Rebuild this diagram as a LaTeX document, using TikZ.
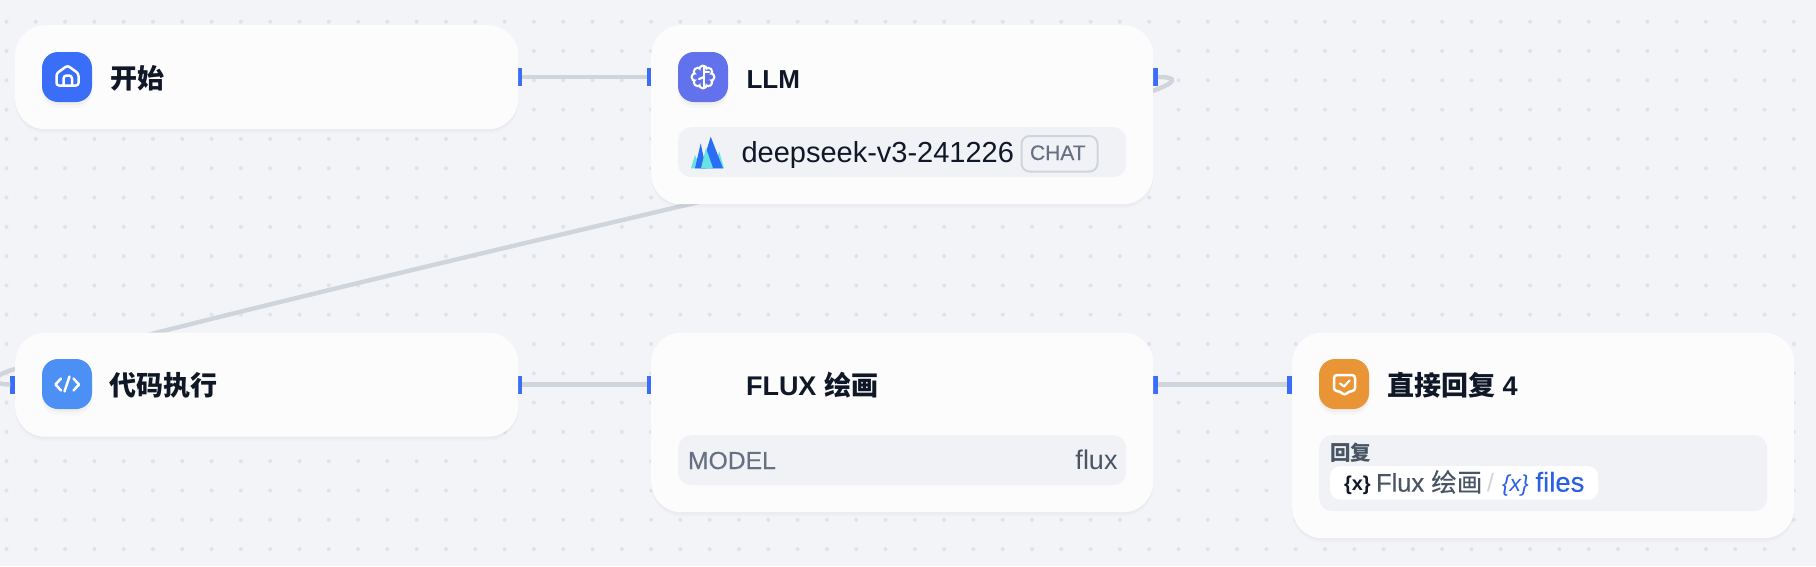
\documentclass[tikz,border=0pt]{standalone}
\usepackage{fontspec}
\setmainfont{Liberation Sans}
\newfontfamily\cjk{Noto Sans CJK SC}
\newfontfamily\medfont[FakeBold=.25]{Liberation Sans}
\newfontfamily\cjkmed[FakeBold=.25]{Noto Sans CJK SC}
\usetikzlibrary{shadows}

\definecolor{bgc}{HTML}{F2F4F7}
\definecolor{dotc}{HTML}{DFE2E8}
\definecolor{cardc}{HTML}{FCFCFD}
\definecolor{panelc}{HTML}{F0F2F6}
\definecolor{edgec}{HTML}{D0D5DC}
\definecolor{handlec}{HTML}{3B6EF8}
\definecolor{inkc}{HTML}{101828}
\definecolor{grayc}{HTML}{676F83}
\definecolor{slatec}{HTML}{495464}
\definecolor{homec}{HTML}{3B6EF8}
\definecolor{llmc}{HTML}{6172EC}
\definecolor{codec}{HTML}{4C90F5}
\definecolor{replyc}{HTML}{EA9535}
\definecolor{filesc}{HTML}{2A5FE6}
\definecolor{seekb}{HTML}{2B6EF6}
\definecolor{seekc}{HTML}{67E3E3}

\tikzstyle{lbl}=[inner sep=0pt,outer sep=0pt,anchor=base west]
\tikzstyle{title}=[lbl,text=inkc,font=\bfseries\fontsize{27}{30}\selectfont]
\tikzstyle{card}=[fill=cardc,rounded corners=30pt,anchor=north west,inner sep=0pt,
	general shadow={fill=black,opacity=.02,shadow xshift=0pt,shadow yshift=-2pt},
	general shadow={fill=black,opacity=.015,shadow xshift=0pt,shadow yshift=-4pt}]
\tikzstyle{panel}=[fill=panelc,rounded corners=13pt,anchor=north west,inner sep=0pt]
\tikzstyle{icon}=[rounded corners=16pt,minimum width=50pt,minimum height=50pt,inner sep=0pt,
	general shadow={fill=black,opacity=.03,shadow xshift=0pt,shadow yshift=-3pt},
	general shadow={fill=black,opacity=.02,shadow xshift=0pt,shadow yshift=-6pt}]
\tikzstyle{handle}=[fill=handlec,minimum width=5pt,minimum height=18pt,inner sep=0pt,outer sep=0pt]
\tikzstyle{edge}=[draw=edgec,line width=4.4pt]
\tikzstyle{glyph}=[draw=white,line width=2.5pt,line cap=round,line join=round]

\begin{document}
\begin{tikzpicture}[x=1pt,y=-1pt]
	\clip (0,0) rectangle (1816,566);
	%background
	\fill[bgc] (0,0) rectangle (1816,566);
	\foreach \i in {0,...,61}
	\foreach \j in {0,...,18}
	\fill[dotc] (6.5+29.3*\i,21.7+29.3*\j) circle (2pt);
	%handles
	\node[handle] (startout) at (519.7,77) {};
	\node[handle] (llmin) at (649,77) {};
	\node[handle] (llmout) at (1155.5,77) {};
	\node[handle] (codein) at (12.8,384.5) {};
	\node[handle] (codeout) at (519.7,384.5) {};
	\node[handle] (fluxin) at (649,384.5) {};
	\node[handle] (fluxout) at (1155.5,384.5) {};
	\node[handle] (replyin) at (1289.8,384.5) {};
	%edges
	\draw[edge] (startout) -- (llmin);
	\draw[edge] (codeout) -- (fluxin);
	\draw[edge] (fluxout) -- (replyin);
	\coordinate (loopa) at (1150,92);
	\coordinate (loopb) at (15,369);
	\draw[edge] (llmout.east) .. controls (1178,77) and (1178,82) .. (loopa)
		.. controls (800,182) and (400,268) .. (loopb)
		.. controls (-10,376) and (-10,384.5) .. (codein.west);
	%cards
	\node[card,minimum width=503pt,minimum height=104pt] (start) at (15,25) {};
	\node[card,minimum width=502pt,minimum height=179pt] (llm) at (651,25) {};
	\node[card,minimum width=503pt,minimum height=104pt] (code) at (15,332.5) {};
	\node[card,minimum width=502pt,minimum height=179.5pt] (flux) at (651,332.5) {};
	\node[card,minimum width=502pt,minimum height=205.5pt] (reply) at (1292,332.5) {};
	%start
	\node[icon,fill=homec] (homeicon) at (67,77) {};
	\draw[glyph,rounded corners=2.5pt] (56.5,85.5) -- (56.5,73.5) -- (67.5,65.5) -- (78.5,73.5) -- (78.5,85.5) -- cycle;
	\draw[glyph,line cap=butt,rounded corners=3pt] (63.5,85.5) -- (63.5,75.5) -- (72,75.5) -- (72,85.5);
	\node[title] (starttitle) at (110,88) {\cjk 开始};
	%llm
	\node[icon,fill=llmc] (llmicon) at (703,77) {};
	\foreach \a in {0,45,...,315}
	\fill[white] (703,77) ++(\a:7.5) circle (5pt);
	\foreach \a in {0,45,...,315}
	\fill[llmc] (703,77) ++(\a:7.5) circle (2.6pt);
	\fill[llmc] (703,77) circle (7pt);
	\draw[glyph,line width=2.2pt] (704,66) -- (704,88);
	\draw[glyph,line width=2.2pt] (704,77) -- (699,79);
	\draw[glyph,line width=2.2pt] (704,72) -- (709,72);
	\node[title,font=\bfseries\fontsize{26}{30}\selectfont] (llmtitle) at (746.5,88) {LLM};
	\node[panel,minimum width=448pt,minimum height=50pt] (llmpanel) at (678,127) {};
	%logo
	\fill[seekc] (691,168.3) -- (695,155) -- (701,168.3) -- cycle;
	\fill[seekc] (712,168.3) -- (719.3,151.7) -- (724,168.3) -- cycle;
	\fill[seekb] (695,168.3) -- (700.7,143.3) -- (706,168.3) -- cycle;
	\fill[seekb] (701,168.3) -- (710.7,136.7) -- (723,168.3) -- cycle;
	\fill[seekc] (701,168.3) -- (706,148) -- (713,168.3) -- cycle;
	\node[lbl,text=inkc,font=\fontsize{29}{32}\selectfont] (llmmodel) at (741.5,162.7) {deepseek-v3-241226};
	\node[draw=edgec,line width=2pt,rounded corners=8pt,anchor=north west,minimum width=76pt,minimum height=35.5pt,inner sep=0pt] (chatbadge) at (1020.5,135) {};
	\node[lbl,text=grayc,font=\medfont\fontsize{21}{24}\selectfont] (chat) at (1030,160) {CHAT};
	%code
	\node[icon,fill=codec] (codeicon) at (67,384) {};
	\draw[glyph] (61,378.5) -- (55.5,384.5) -- (61,390.5);
	\draw[glyph] (73.5,378.5) -- (79,384.5) -- (73.5,390.5);
	\draw[glyph] (69.5,376.5) -- (64.5,391.5);
	\node[title] (codetitle) at (109.5,395) {\cjk 代码执行};
	%flux
	\node[title] (fluxtitle) at (746,395) {FLUX {\cjk 绘画}};
	\node[panel,minimum width=448pt,minimum height=50pt] (fluxpanel) at (678,435) {};
	\node[lbl,text=grayc,font=\medfont\fontsize{24.7}{28}\selectfont] (modelkey) at (688,469) {MODEL};
	\node[lbl,anchor=base east,text=slatec,font=\fontsize{27}{30}\selectfont] (modelval) at (1117.5,469) {flux};
	%reply
	\node[icon,fill=replyc] (replyicon) at (1344,384) {};
	\draw[glyph,rounded corners=3pt] (1334,375) -- (1355,375) -- (1355,391) -- (1349.5,391) -- (1344.5,395.5) -- (1339.5,391) -- (1334,391) -- cycle;
	\draw[glyph,line width=2.2pt] (1340,383.5) -- (1344,386.5) -- (1349.5,380.5);
	\node[title] (replytitle) at (1387,395) {{\cjk 直接回复} 4};
	\node[panel,minimum width=448pt,minimum height=76pt] (replypanel) at (1319,435) {};
	\node[lbl,text=slatec,font=\bfseries\fontsize{20.5}{24}\selectfont] (replykey) at (1330,460.5) {\cjk 回复};
	\node[fill=white,rounded corners=10pt,anchor=north west,minimum width=268pt,minimum height=33.5pt,inner sep=0pt] (replypill) at (1330,466) {};
	\node[lbl,text=inkc,font=\bfseries\fontsize{20}{26}\selectfont] (varnode) at (1344,490.5) {\{x\}};
	\node[lbl,text=slatec,font=\medfont\fontsize{25.5}{28}\selectfont] (varname) at (1376,491.7) {Flux {\cjkmed 绘画}};
	\node[lbl,text=edgec,font=\fontsize{25}{28}\selectfont] (varsep) at (1487,491.7) {/};
	\node[lbl,text=filesc,font=\itshape\fontsize{23}{26}\selectfont] (varfile) at (1502,491) {\{x\}};
	\node[lbl,text=filesc,font=\medfont\fontsize{27.5}{30}\selectfont] (files) at (1535.5,491.7) {files};
\end{tikzpicture}
\end{document}
